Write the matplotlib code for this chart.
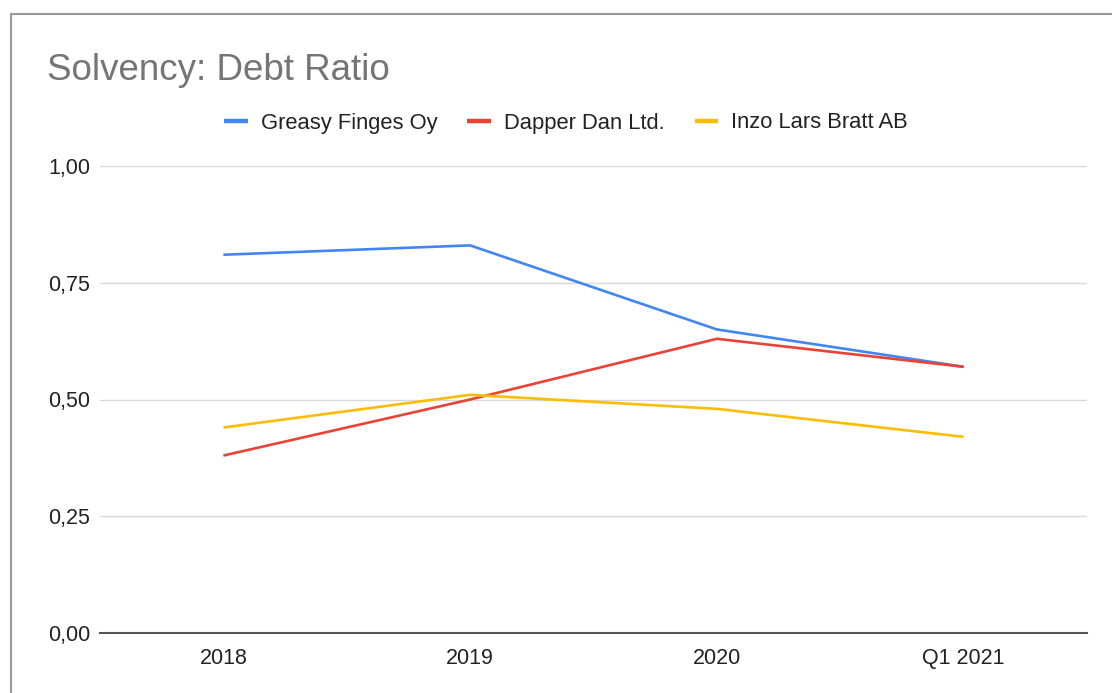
import matplotlib
matplotlib.use("Agg")
import matplotlib.pyplot as plt
from matplotlib.patches import Rectangle
from matplotlib.ticker import FuncFormatter

categories = ["2018", "2019", "2020", "Q1 2021"]
greasy = [0.81, 0.83, 0.65, 0.57]
dapper = [0.38, 0.50, 0.63, 0.57]
inzo = [0.44, 0.51, 0.48, 0.42]
series_names = ["Greasy Finges Oy", "Dapper Dan Ltd.", "Inzo Lars Bratt AB"]
colors = ["#4285F4", "#EA4335", "#FBBC04"]
yticks = [0.0, 0.25, 0.5, 0.75, 1.0]

plt.rcParams['font.family'] = ['Liberation Sans', 'DejaVu Sans']

W, H = 1112, 693
fig = plt.figure(figsize=(W/100, H/100), dpi=100)
fig.patch.set_facecolor("white")

# outer chart border
fig.patches.append(Rectangle((11/W, -0.1), 1.2, 1 - 14/H + 0.1, transform=fig.transFigure,
                             fill=False, edgecolor="#9a9a9a", linewidth=1.5, zorder=0))

ax = fig.add_axes([100/W, 1 - 633/H, (1087-100)/W, (633-166)/H])
x = list(range(len(categories)))
for vals, name, c in zip([greasy, dapper, inzo], series_names, colors):
    ax.plot(x, vals, color=c, linewidth=1.9, label=name, zorder=3, clip_on=False,
            solid_capstyle='butt')

ax.set_xlim(-0.5, 3.5)
ax.set_ylim(0, 1.0)
ax.set_yticks(yticks)
ax.yaxis.set_major_formatter(FuncFormatter(lambda v, p: f"{v:.2f}".replace(".", ",")))
ax.set_xticks(x)
ax.set_xticklabels(categories)
ax.tick_params(axis='both', length=0, labelsize=15.5, labelcolor="#222222")
ax.tick_params(axis='y', pad=7)
ax.tick_params(axis='x', pad=11)
for s in ["top", "right", "left"]:
    ax.spines[s].set_visible(False)
ax.spines["bottom"].set_color("#555555")
ax.spines["bottom"].set_linewidth(1.5)
ax.spines["bottom"].set_zorder(4)
ax.grid(axis='y', color="#d9d9d9", linewidth=1.0)
ax.set_axisbelow(True)

fig.text(47/W, 1 - 71/H, "Solvency: Debt Ratio", fontsize=26.5, color="#757575", va="center", ha="left")

leg = fig.legend(loc="center", bbox_to_anchor=(566/W, 1 - 123/H), ncol=3, frameon=False,
                 fontsize=15.8, handlelength=1.09, handletextpad=0.59, columnspacing=1.36)
for line in leg.get_lines():
    line.set_linewidth(3.2)
for t in leg.get_texts():
    t.set_color("#222222")

fig.savefig("out.png", dpi=100, facecolor="white")
